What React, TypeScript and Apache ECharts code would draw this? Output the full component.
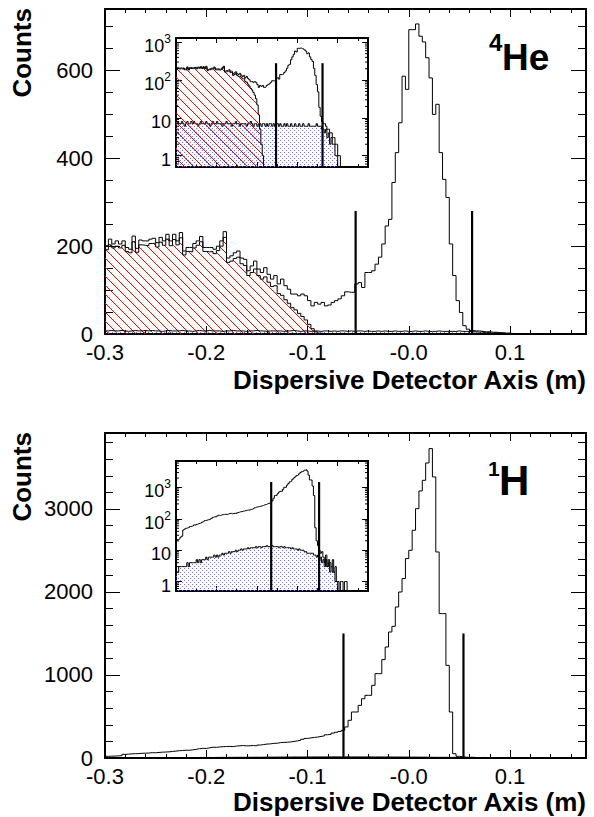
import React, { useEffect, useRef } from "react";
import * as echarts from "echarts";

const FONT = '"Liberation Sans", Arial, Helvetica, sans-serif';

// Histogram binning
const HIST_MIN = -0.3;
const BIN_WIDTH = 1 / 300;
const X_MIN = -0.3;
const X_MAX = 0.175;
const X_TICK_LABELS = ["-0.3", "-0.2", "-0.1", "-0.0", "0.1"];

// ---- 4He panel ----
const HE_TOTAL = [
  201, 216, 205, 212, 205, 212, 197, 193, 223, 195,
  214, 212, 212, 216, 218, 208, 220, 212, 227, 212,
  227, 212, 231, 189, 197, 197, 206, 212, 222, 197,
  197, 197, 193, 200, 212, 233, 173, 178, 185, 189,
  173, 170, 144, 155, 166, 148, 140, 151, 136, 125,
  133, 114, 125, 110, 102, 91, 91, 87, 91, 87,
  76, 64, 72, 68, 72, 64, 66, 72, 76, 80,
  87, 96, 95, 95, 114, 117, 106, 140, 140, 144,
  159, 175, 205, 246, 261, 345, 413, 481, 587, 557,
  693, 693, 706, 678, 665, 629, 583, 500, 523, 413,
  352, 311, 205, 133, 76, 49, 19, 11, 8, 7,
  7, 6, 5, 5, 4, 4, 3, 3, 2, 2,
  1, 1, 0,
];
const HE_RED = [
  192, 203, 196, 200, 196, 202, 188, 185, 210, 186,
  203, 202, 201, 206, 207, 198, 209, 202, 216, 201,
  215, 203, 219, 180, 188, 187, 196, 202, 210, 188,
  187, 188, 183, 190, 200, 220, 163, 166, 172, 175,
  160, 156, 133, 140, 148, 133, 125, 130, 118, 108,
  110, 92, 88, 78, 70, 60, 55, 47, 40, 32,
  22, 12, 5, 2, 1, 0,
];
const HE_BLUE = [
  7, 8, 7, 7, 8, 7, 6, 7, 8, 7,
  7, 8, 7, 8, 7, 7, 6, 7, 8, 7,
  7, 7, 8, 7, 7, 6, 7, 8, 7, 7,
  8, 7, 7, 7, 6, 7, 7, 8, 7, 7,
  7, 6, 7, 7, 8, 7, 7, 6, 7, 7,
  7, 7, 6, 7, 7, 8, 7, 6, 7, 7,
  6, 7, 7, 6, 7, 7, 6, 7, 6, 7,
  7, 6, 7, 6, 7, 7, 6, 7, 6, 6,
  7, 6, 7, 6, 6, 7, 6, 6, 7, 6,
  6, 7, 6, 6, 7, 6, 6, 6, 7, 6,
  6, 6, 6, 6, 7, 6, 6, 6, 5, 5,
  4, 5, 3, 4, 2, 3, 2, 2, 1, 1,
  0,
];
const HE_CUTS = [-0.0525, 0.0625];
const HE_CUT_HEIGHT = 280;
const HE_Y_MAX = 740;
const HE_Y_MAJOR = 200;
const HE_Y_MINOR = 50;
const HE_LOG_MAX = 1300;

// ---- 1H panel ----
const H_TOTAL = [
  20, 22, 23, 26, 28, 44, 47, 50, 52, 53,
  57, 58, 60, 64, 63, 67, 70, 72, 74, 79,
  83, 88, 90, 94, 93, 98, 104, 112, 117, 115,
  122, 130, 128, 133, 136, 138, 140, 137, 144, 147,
  150, 146, 148, 150, 147, 156, 162, 168, 170, 176,
  178, 185, 188, 190, 193, 200, 206, 214, 226, 236,
  242, 248, 252, 260, 266, 280, 285, 300, 310, 320,
  334, 374, 454, 554, 554, 634, 714, 755, 755, 875,
  1016, 1016, 1185, 1337, 1518, 1586, 1819, 2000, 2161, 2402,
  2502, 2743, 3004, 3217, 3345, 3554, 3727, 3386, 2482, 1739,
  1739, 1116, 554, 52, 20, 14, 10, 8, 9, 6,
  4, 7, 3, 5, 4, 3, 5, 2, 3, 1,
  1, 0, 1, 1, 0, 1, 1, 0,
];
const H_BLUE = [
  2, 2, 3, 3, 3, 3, 3, 3, 4, 3,
  4, 4, 4, 4, 4, 5, 4, 5, 4, 5,
  5, 5, 6, 5, 6, 6, 6, 6, 7, 6,
  7, 6, 7, 7, 8, 7, 8, 8, 8, 9,
  8, 9, 9, 9, 10, 9, 10, 10, 11, 10,
  11, 11, 11, 12, 11, 12, 12, 12, 12, 13,
  12, 13, 13, 12, 13, 13, 13, 14, 13, 13,
  13, 14, 13, 13, 13, 13, 12, 13, 13, 12,
  13, 12, 12, 12, 12, 11, 12, 11, 11, 11,
  10, 11, 10, 10, 10, 9, 9, 8, 8, 8,
  8, 8, 7, 7, 6, 7, 5, 6, 4, 5,
  3, 5, 3, 4, 2, 3, 2, 2, 1, 1,
  0,
];
const H_CUTS = [-0.0645, 0.054];
const H_CUT_HEIGHT = 1500;
const H_Y_MAX = 3915;
const H_Y_MAJOR = 1000;
const H_Y_MINOR = 200;
const H_LOG_MAX = 7000;

const LOG_MIN = 0.5;
const LOG_MINOR_TICKS = [
  0.6, 0.7, 0.8, 0.9, 2, 3, 4, 5, 6, 7, 8, 9,
  20, 30, 40, 50, 60, 70, 80, 90,
  200, 300, 400, 500, 600, 700, 800, 900,
  2000, 3000, 4000, 5000, 6000,
];

function makeHatch() {
  const s = 9;
  const c = document.createElement("canvas");
  c.width = s;
  c.height = s;
  const g = c.getContext("2d")!;
  g.strokeStyle = "#ff0000";
  g.lineWidth = 1;
  for (const k of [-1, 0, 1]) {
    g.beginPath();
    g.moveTo(k * s, 0);
    g.lineTo(k * s + s, s);
    g.stroke();
  }
  return { image: c.toDataURL(), repeat: "repeat", imageWidth: s, imageHeight: s };
}

function makeDots() {
  const s = 4;
  const c = document.createElement("canvas");
  c.width = s;
  c.height = s;
  const g = c.getContext("2d")!;
  g.fillStyle = "#7272ff";
  g.fillRect(0, 0, 1, 1);
  g.fillRect(2, 2, 1, 1);
  return { image: c.toDataURL(), repeat: "repeat", imageWidth: s, imageHeight: s };
}

function stepData(vals: number[], floor: number) {
  const pts: number[][] = vals.map((v, i) => [HIST_MIN + i * BIN_WIDTH, v > 0 ? v : floor]);
  const last = vals[vals.length - 1];
  pts.push([HIST_MIN + vals.length * BIN_WIDTH, last > 0 ? last : floor]);
  return pts;
}

const xLabel = (v: number) => {
  const k = Math.round((v - X_MIN) / 0.1);
  if (Math.abs(v - (X_MIN + k * 0.1)) > 1e-6 || k < 0 || k >= X_TICK_LABELS.length) return "";
  return X_TICK_LABELS[k];
};

const logLabel = (v: number) => {
  const l = Math.log10(v);
  const e = Math.round(l);
  if (Math.abs(l - e) > 1e-6) return "";
  if (e === 0) return "{a|1}";
  if (e === 1) return "{a|10}";
  return `{a|10}{s|${e}}`;
};

function buildOption() {
  const hatch = makeHatch();
  const dots = makeDots();
  const grids: any[] = [];
  const xAxes: any[] = [];
  const yAxes: any[] = [];
  const series: any[] = [];

  type Panel = {
    left: number; top: number; width: number; height: number;
    log: boolean; yMax: number; yMajor?: number; yMinor?: number;
    xMajor: number; xMinor: number;
    xMajorLen: number; xMinorLen: number; yMajorLen: number; yMinorLen: number;
    labels: boolean;
  };

  function addPanel(p: Panel) {
    const g = grids.length;
    const rect = { left: p.left, top: p.top, width: p.width, height: p.height, containLabel: false };
    grids.push({ ...rect });
    grids.push({ ...rect });
    const xBase = (gridIndex: number, interval: number, len: number, showLine: boolean) => ({
      type: "value", gridIndex, min: X_MIN, max: X_MAX, interval,
      splitLine: { show: false },
      axisLine: { show: showLine, onZero: false, lineStyle: { color: "#000", width: 2 } },
      axisTick: { show: true, inside: true, length: len, lineStyle: { color: "#000", width: 1 } },
    });
    const xi = xAxes.length;
    xAxes.push({
      ...xBase(g, p.xMajor, p.xMajorLen, true), position: "bottom",
      axisLabel: p.labels
        ? { show: true, formatter: xLabel, fontSize: 22, lineHeight: 16, fontFamily: FONT, color: "#000", margin: 10 }
        : { show: false },
    });
    xAxes.push({ ...xBase(g, p.xMajor, p.xMajorLen, true), position: "top", axisLabel: { show: false } });
    xAxes.push({ ...xBase(g + 1, p.xMinor, p.xMinorLen, false), position: "bottom", axisLabel: { show: false } });
    xAxes.push({ ...xBase(g + 1, p.xMinor, p.xMinorLen, false), position: "top", axisLabel: { show: false } });

    const yi = yAxes.length;
    if (!p.log) {
      const yBase = (gridIndex: number, interval: number, len: number, showLine: boolean) => ({
        type: "value", gridIndex, min: 0, max: p.yMax, interval,
        splitLine: { show: false },
        axisLine: { show: showLine, onZero: false, lineStyle: { color: "#000", width: 2 } },
        axisTick: { show: true, inside: true, length: len, lineStyle: { color: "#000", width: 1 } },
      });
      const major = p.yMajor!;
      yAxes.push({
        ...yBase(g, major, p.yMajorLen, true), position: "left",
        axisLabel: {
          show: true, fontSize: 22, lineHeight: 14, fontFamily: FONT, color: "#000", margin: 12, padding: [4, 0, 0, 0],
          formatter: (v: number) => (Math.abs(v - Math.round(v / major) * major) < 1e-6 ? String(Math.round(v)) : ""),
        },
      });
      yAxes.push({ ...yBase(g, major, p.yMajorLen, true), position: "right", axisLabel: { show: false } });
      yAxes.push({ ...yBase(g + 1, p.yMinor!, p.yMinorLen, false), position: "left", axisLabel: { show: false } });
      yAxes.push({ ...yBase(g + 1, p.yMinor!, p.yMinorLen, false), position: "right", axisLabel: { show: false } });
    } else {
      const yBase = (gridIndex: number, showLine: boolean, showTick: boolean) => ({
        type: "log", logBase: 10, gridIndex, min: LOG_MIN, max: p.yMax,
        splitLine: { show: false },
        axisLine: { show: showLine, onZero: false, lineStyle: { color: "#000", width: 2 } },
        axisTick: { show: showTick, inside: true, length: p.yMajorLen, lineStyle: { color: "#000", width: 1 } },
      });
      yAxes.push({
        ...yBase(g, true, true), position: "left",
        axisLabel: {
          show: true, formatter: logLabel, margin: 5, padding: [4, 0, 0, 0],
          rich: {
            a: { fontSize: 18, fontFamily: FONT, color: "#000", verticalAlign: "bottom", lineHeight: 22 },
            s: { fontSize: 12, fontFamily: FONT, color: "#000", verticalAlign: "top", lineHeight: 14 },
          },
        },
      });
      yAxes.push({ ...yBase(g, true, true), position: "right", axisLabel: { show: false } });
      yAxes.push({ ...yBase(g + 1, false, false), position: "left", axisLabel: { show: false } });
      yAxes.push({ ...yBase(g + 1, false, false), position: "right", axisLabel: { show: false } });
      const minorLen = p.yMinorLen;
      series.push({
        type: "custom", xAxisIndex: xi, yAxisIndex: yi, silent: true, z: 10,
        encode: { x: 0, y: 1 },
        data: LOG_MINOR_TICKS.filter((v) => v < p.yMax).map((v) => [X_MIN, v]),
        renderItem: (_params: any, api: any) => {
          const v = api.value(1);
          const a = api.coord([X_MIN, v]);
          const b = api.coord([X_MAX, v]);
          return {
            type: "group",
            children: [
              { type: "line", shape: { x1: a[0], y1: a[1], x2: a[0] + minorLen, y2: a[1] }, style: { stroke: "#000", lineWidth: 1 } },
              { type: "line", shape: { x1: b[0] - minorLen, y1: b[1], x2: b[0], y2: b[1] }, style: { stroke: "#000", lineWidth: 1 } },
            ],
          };
        },
      });
    }
    return { xi, yi };
  }

  function addHist(xi: number, yi: number, vals: number[], floor: number, fill: any, z: number) {
    series.push({
      type: "line", xAxisIndex: xi, yAxisIndex: yi, data: stepData(vals, floor), step: "end",
      symbol: "none", showSymbol: false, silent: true, clip: true, z,
      lineStyle: { color: "#000", width: 1 },
      areaStyle: fill ? { color: fill, origin: "start", opacity: 1 } : undefined,
    });
  }

  function addCuts(xi: number, yi: number, cuts: number[], bottom: number, height: number) {
    cuts.forEach((c) => {
      series.push({
        type: "line", xAxisIndex: xi, yAxisIndex: yi, data: [[c, bottom], [c, height]],
        symbol: "none", showSymbol: false, silent: true, clip: true, z: 6,
        lineStyle: { color: "#000", width: 2.2 },
      });
    });
  }

  // --- 4He main ---
  const heMain = addPanel({
    left: 105, top: 9, width: 481, height: 325, log: false, yMax: HE_Y_MAX, yMajor: HE_Y_MAJOR, yMinor: HE_Y_MINOR,
    xMajor: 0.1, xMinor: 0.02, xMajorLen: 8, xMinorLen: 4, yMajorLen: 15, yMinorLen: 8, labels: true,
  });
  addHist(heMain.xi, heMain.yi, HE_RED, 0, hatch, 2);
  addHist(heMain.xi, heMain.yi, HE_BLUE, 0, dots, 3);
  addHist(heMain.xi, heMain.yi, HE_TOTAL, 0, null, 4);
  addCuts(heMain.xi, heMain.yi, HE_CUTS, 0, HE_CUT_HEIGHT);

  // --- 4He inset ---
  const heIn = addPanel({
    left: 176, top: 38, width: 192, height: 129, log: true, yMax: HE_LOG_MAX,
    xMajor: 0.1, xMinor: 0.05, xMajorLen: 5, xMinorLen: 3, yMajorLen: 6, yMinorLen: 3, labels: false,
  });
  addHist(heIn.xi, heIn.yi, HE_BLUE, 0.01, dots, 2);
  addHist(heIn.xi, heIn.yi, HE_RED, 0.01, hatch, 3);
  addHist(heIn.xi, heIn.yi, HE_TOTAL, 0.01, null, 4);
  addCuts(heIn.xi, heIn.yi, HE_CUTS, LOG_MIN, HE_CUT_HEIGHT);

  // --- 1H main ---
  const hMain = addPanel({
    left: 105, top: 433, width: 481, height: 325, log: false, yMax: H_Y_MAX, yMajor: H_Y_MAJOR, yMinor: H_Y_MINOR,
    xMajor: 0.1, xMinor: 0.02, xMajorLen: 8, xMinorLen: 4, yMajorLen: 15, yMinorLen: 8, labels: true,
  });
  addHist(hMain.xi, hMain.yi, H_BLUE, 0, dots, 3);
  addHist(hMain.xi, hMain.yi, H_TOTAL, 0, null, 4);
  addCuts(hMain.xi, hMain.yi, H_CUTS, 0, H_CUT_HEIGHT);

  // --- 1H inset ---
  const hIn = addPanel({
    left: 176, top: 461, width: 192, height: 130, log: true, yMax: H_LOG_MAX,
    xMajor: 0.1, xMinor: 0.05, xMajorLen: 5, xMinorLen: 3, yMajorLen: 6, yMinorLen: 3, labels: false,
  });
  addHist(hIn.xi, hIn.yi, H_BLUE, 0.01, dots, 3);
  addHist(hIn.xi, hIn.yi, H_TOTAL, 0.01, null, 4);
  addCuts(hIn.xi, hIn.yi, H_CUTS, LOG_MIN, H_CUT_HEIGHT);

  const txt = (x: number, y: number, text: string, size: number, align: string, rotation = 0) => ({
    type: "text", x, y, rotation, silent: true,
    style: { text, fontSize: size, fontWeight: "bold", fontFamily: FONT, fill: "#000", align, verticalAlign: "middle" },
  });

  const graphic = [
    txt(22, 8, "Counts", 26, "right", Math.PI / 2),
    txt(22, 432, "Counts", 26, "right", Math.PI / 2),
    txt(586, 380, "Dispersive Detector Axis (m)", 26, "right"),
    txt(586, 802, "Dispersive Detector Axis (m)", 26, "right"),
    txt(489, 42, "4", 24, "left"),
    txt(502, 57, "He", 37, "left"),
    txt(488, 468, "1", 21, "left"),
    txt(499, 480, "H", 42, "left"),
  ];

  return {
    animation: false,
    backgroundColor: "#fff",
    grid: grids,
    xAxis: xAxes,
    yAxis: yAxes,
    series,
    graphic,
  };
}

export default function App() {
  const ref = useRef<HTMLDivElement>(null);
  useEffect(() => {
    const chart = echarts.init(ref.current!, null, { renderer: "svg" });
    chart.setOption(buildOption() as any);
    return () => chart.dispose();
  }, []);
  return (
    <div
      ref={ref}
      style={{ position: "fixed", left: 0, top: 0, width: 594, height: 817, background: "#fff" }}
    />
  );
}
